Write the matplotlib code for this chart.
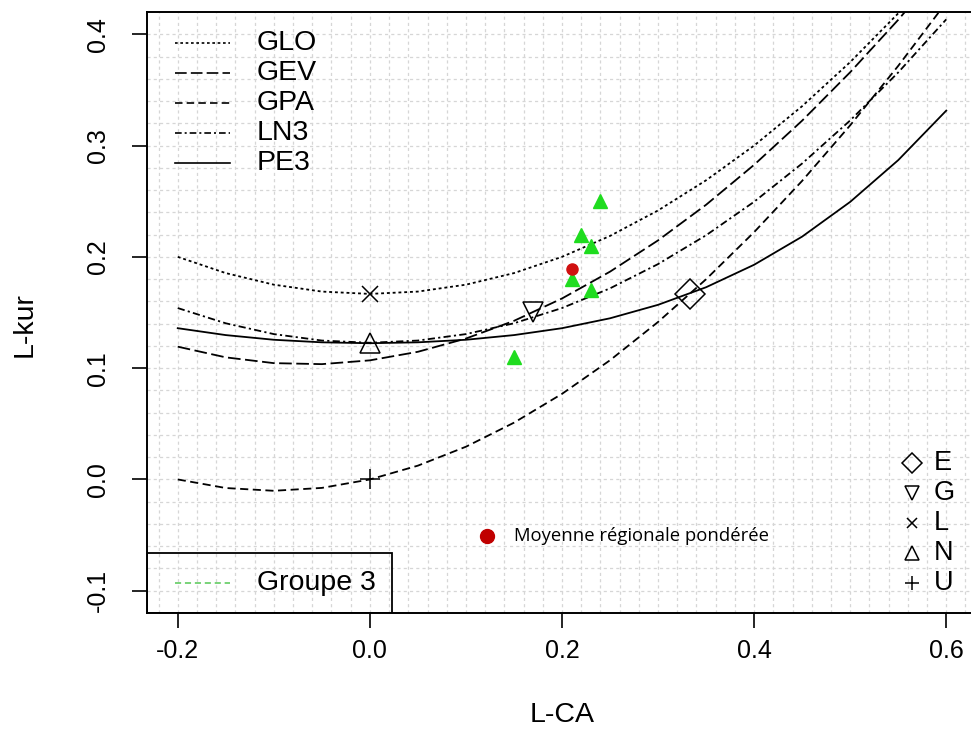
import numpy as np
import matplotlib
matplotlib.use("Agg")
import matplotlib.pyplot as plt
from matplotlib.patches import Rectangle

plt.rcParams['font.family'] = ['Liberation Sans', 'DejaVu Sans']

# L-CA grid used to read the theoretical curves off the chart
lcs = [-0.20, -0.15, -0.10, -0.05, 0.00, 0.05, 0.10, 0.15, 0.20, 0.25, 0.30,
       0.35, 0.40, 0.45, 0.50, 0.55, 0.60]
glo = [0.2000, 0.1854, 0.1750, 0.1688, 0.1667, 0.1688, 0.1750, 0.1854, 0.2000,
       0.2188, 0.2417, 0.2688, 0.3000, 0.3354, 0.3750, 0.4188, 0.4667]
gev = [0.1193, 0.1097, 0.1045, 0.1036, 0.1070, 0.1147, 0.1266, 0.1425, 0.1626,
       0.1867, 0.2148, 0.2468, 0.2827, 0.3224, 0.3659, 0.4130, 0.4638]
gpa = [0.0000, -0.0077, -0.0102, -0.0076, 0.0000, 0.0124, 0.0294, 0.0510, 0.0769,
       0.1071, 0.1415, 0.1799, 0.2222, 0.2683, 0.3182, 0.3716, 0.4286]
ln3 = [0.1540, 0.1403, 0.1306, 0.1248, 0.1228, 0.1248, 0.1306, 0.1403, 0.1540,
       0.1717, 0.1935, 0.2194, 0.2495, 0.2839, 0.3226, 0.3657, 0.4134]
pe3 = [0.1359, 0.1297, 0.1255, 0.1232, 0.1224, 0.1232, 0.1255, 0.1297, 0.1359,
       0.1448, 0.1569, 0.1727, 0.1929, 0.2182, 0.2494, 0.2869, 0.3314]
curve_names = ['GLO', 'GEV', 'GPA', 'LN3', 'PE3']
curves = [glo, gev, gpa, ln3, pe3]
styles = [(0, (1.6, 1.6)), (0, (7, 2.5)), (0, (4.5, 2.5)), (0, (4, 1.8, 1.2, 1.8)), '-']

# two-parameter distributions
dist_codes = ['E', 'G', 'L', 'N', 'U']
dist_lcs = [0.3333, 0.1699, 0.0, 0.0, 0.0]
dist_lkur = [0.1667, 0.1504, 0.1667, 0.1226, 0.0]
dist_mk = ['D', 'v', 'x', '^', '+']
dist_ms = [15, 15, 11, 15, 15]

# stations of group 3 and weighted regional mean
obs_lcs = [0.24, 0.22, 0.23, 0.21, 0.23, 0.15]
obs_lkur = [0.25, 0.22, 0.21, 0.18, 0.17, 0.11]
mean_lcs = 0.21
mean_lkur = 0.189

W, H = 971, 735
fig = plt.figure(figsize=(W/100, H/100), dpi=100)
ax = fig.add_axes([147/W, 1-613/H, (977-147)/W, (613-12)/H])
ax.set_xlim(-0.232, 0.632)
ax.set_ylim(-0.12, 0.42)

# grid
for gx in np.arange(-0.22, 0.64, 0.02):
    ax.axvline(gx, color='#d6d6d6', lw=0.9, ls=(0, (2.5, 2.5)), zorder=0)
for gy in np.arange(-0.12, 0.42, 0.02):
    ax.axhline(gy, color='#d6d6d6', lw=0.9, ls=(0, (2.5, 2.5)), zorder=0)

for ys, st in zip(curves, styles):
    ax.plot(lcs, ys, color='black', lw=1.3, ls=st)

for x, y, m, s in zip(dist_lcs, dist_lkur, dist_mk, dist_ms):
    ax.plot(x, y, marker=m, ms=s, mfc='none', mec='black', mew=1.1, ls='none')

ax.plot(obs_lcs, obs_lkur, marker='^', ms=10, color='#1fdc1f', ls='none')
ax.plot(mean_lcs, mean_lkur, marker='o', ms=8, color='#d01010', ls='none')

# annotation of the regional mean
ax.plot(0.122, -0.051, marker='o', ms=10, color='#c00000', ls='none')
ax.text(0.15, -0.051, 'Moyenne régionale pondérée', fontsize=13.3, va='center',
        family=['Open Sans', 'DejaVu Sans'])

fs = 18
lfs = 20.5
# curve legend (top left)
for i, (name, st) in enumerate(zip(curve_names, styles)):
    yy = 1 - (43 - 12 + 30*i)/601
    ax.plot([0.034, 0.100], [yy, yy], transform=ax.transAxes, color='black', lw=1.2, ls=st)
    ax.text(0.132, yy, name, transform=ax.transAxes, fontsize=lfs, va='center')

# distribution legend (bottom right)
for i, (code, m, s) in enumerate(zip(dist_codes, dist_mk, dist_ms)):
    yy = 1 - (463 - 12 + 30*i)/601
    ax.plot(0.922, yy, transform=ax.transAxes, marker=m, ms=s*0.66, mfc='none',
            mec='black', mew=1.1, ls='none')
    ax.text(0.948, yy, code, transform=ax.transAxes, fontsize=19.5, va='center')

# group legend (bottom left)
ax.add_patch(Rectangle((0, 0), 0.295, 0.1, transform=ax.transAxes, fill=False,
                       ec='black', lw=1.3))
ax.plot([0.034, 0.100], [0.05, 0.05], transform=ax.transAxes, color='#55c855',
        lw=1.1, ls=(0, (4, 2.5)))
ax.text(0.132, 0.05, 'Groupe 3', transform=ax.transAxes, fontsize=lfs, va='center')

ax.set_xticks([-0.2, 0.0, 0.2, 0.4, 0.6])
ax.set_xticklabels(['-0.2', '0.0', '0.2', '0.4', '0.6'])
ax.set_yticks([-0.1, 0.0, 0.1, 0.2, 0.3, 0.4])
ax.set_yticklabels(['-0.1', '0.0', '0.1', '0.2', '0.3', '0.4'], rotation=90, va='center')
ax.tick_params(axis='both', direction='out', length=11, width=1.2, labelsize=fs)
ax.tick_params(axis='x', pad=8)
ax.tick_params(axis='y', pad=16)
for sp in ax.spines.values():
    sp.set_linewidth(1.4)

fig.text(562/W, 1-715/H, 'L-CA', fontsize=lfs, ha='center', va='center')
fig.text(25/W, 1-325/H, 'L-kur', fontsize=lfs, ha='center', va='center', rotation=90)

fig.savefig('out.png', dpi=100)
